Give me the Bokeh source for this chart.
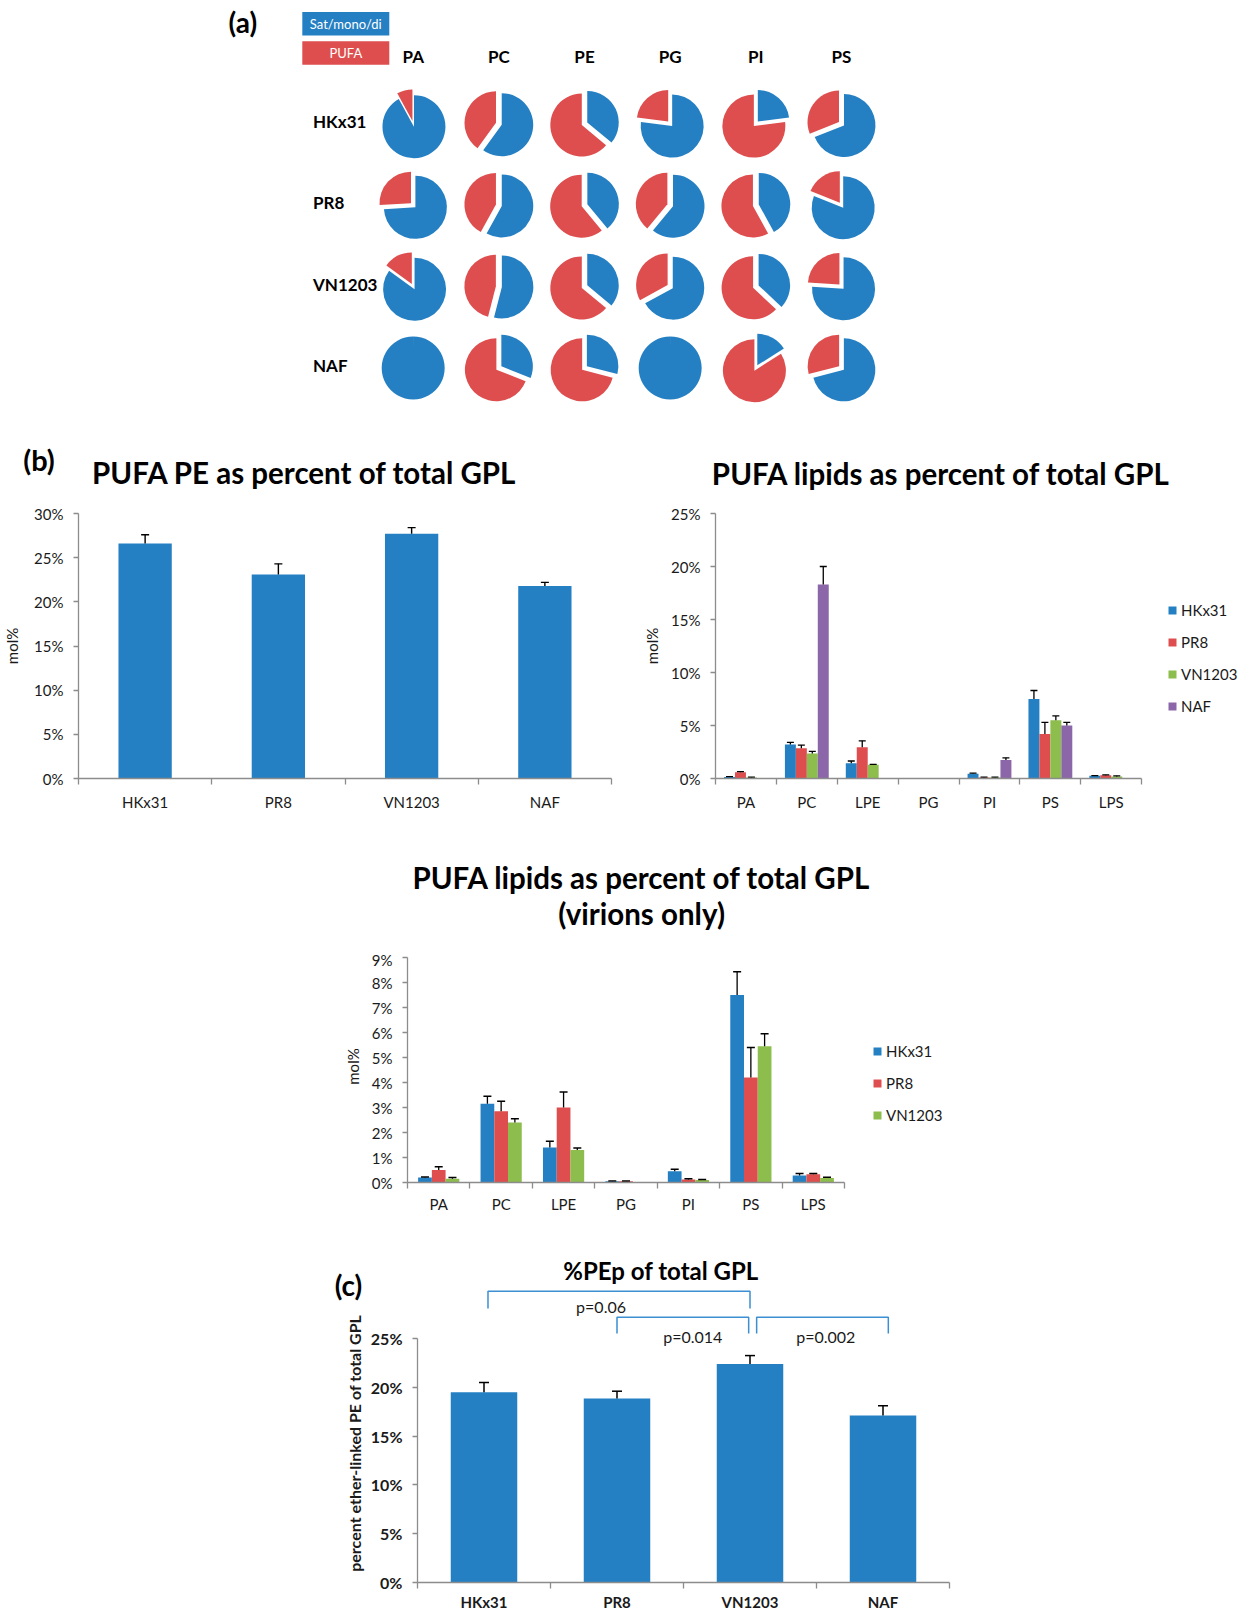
import math
from bokeh.plotting import figure
from bokeh.models import (Range1d, FixedTicker, Legend, LegendItem,
                          ColumnDataSource, Spacer, PrintfTickFormatter)
from bokeh.layouts import column, row
from bokeh.core.properties import value
from bokeh.embed import file_html
from bokeh.resources import INLINE

# ---------------- data ----------------
strains = ["HKx31", "PR8", "VN1203", "NAF"]
pie_lipids = ["PA", "PC", "PE", "PG", "PI", "PS"]
pufa_frac_HKx31 = [0.08, 0.40, 0.64, 0.23, 0.77, 0.31]
pufa_frac_PR8 = [0.26, 0.42, 0.61, 0.39, 0.58, 0.19]
pufa_frac_VN1203 = [0.15, 0.46, 0.64, 0.33, 0.63, 0.24]
pufa_frac_NAF = [0.00, 0.69, 0.71, 0.00, 0.84, 0.29]
pie_legend = ["Sat/mono/di", "PUFA"]

pufa_pe = [26.6, 23.1, 27.7, 21.8]
pufa_pe_err = [1.0, 1.2, 0.7, 0.4]

bar_lipids = ["PA", "PC", "LPE", "PG", "PI", "PS", "LPS"]
all_HKx31 = [0.15, 3.2, 1.45, 0.0, 0.45, 7.5, 0.25]
all_HKx31_err = [0.03, 0.2, 0.2, 0.0, 0.05, 0.8, 0.03]
all_PR8 = [0.6, 2.85, 2.95, 0.0, 0.1, 4.2, 0.3]
all_PR8_err = [0.05, 0.3, 0.6, 0.0, 0.03, 1.1, 0.05]
all_VN1203 = [0.1, 2.35, 1.3, 0.0, 0.1, 5.5, 0.2]
all_VN1203_err = [0.03, 0.2, 0.03, 0.0, 0.03, 0.4, 0.05]
all_NAF = [0.0, 18.3, 0.0, 0.0, 1.75, 5.0, 0.0]
all_NAF_err = [0.0, 1.7, 0.0, 0.0, 0.2, 0.3, 0.0]

vir_HKx31 = [0.2, 3.15, 1.4, 0.05, 0.45, 7.5, 0.28]
vir_HKx31_err = [0.02, 0.3, 0.25, 0.01, 0.08, 0.93, 0.08]
vir_PR8 = [0.5, 2.85, 3.0, 0.05, 0.12, 4.2, 0.33]
vir_PR8_err = [0.13, 0.4, 0.62, 0.01, 0.03, 1.2, 0.03]
vir_VN1203 = [0.15, 2.4, 1.3, 0.0, 0.1, 5.45, 0.18]
vir_VN1203_err = [0.05, 0.15, 0.08, 0.0, 0.02, 0.5, 0.03]

pep = [19.5, 18.85, 22.4, 17.1]
pep_err = [1.0, 0.75, 0.85, 1.0]
pvals = ["p=0.06", "p=0.014", "p=0.002"]
bracket_x0 = [0.53, 1.5, 2.55]
bracket_x1 = [2.5, 2.49, 3.54]
bracket_top = [29.85, 27.18, 27.18]
bracket_leg = [28.07, 25.51, 25.51]
pval_x = [1.38, 2.07, 3.07]
pval_y = [28.28, 25.2, 25.2]

# ---------------- style ----------------
BLUE = "#2580C3"
RED = "#DE4E4E"
GREEN = "#8DBD4C"
PURPLE = "#8B66A8"
AXIS = "#8C8C8C"
TXT = "#1a1a1a"
FONT = "Lato"
BRACKET = "#3B8FD2"
TITLE_SIZE = "29.5px"


def blank_fig(width, height, xr, yr):
    p = figure(width=width, height=height, x_range=Range1d(*xr), y_range=Range1d(*yr),
               output_backend="svg", toolbar_location=None,
               x_axis_location=None, y_axis_location=None,
               min_border_left=0, min_border_right=0, min_border_top=0, min_border_bottom=0)
    p.grid.visible = False
    p.outline_line_color = None
    p.background_fill_color = "white"
    p.border_fill_color = "white"
    return p


def base_fig(width, height, xmax, ymax, bl, br, bt, bb):
    p = figure(width=width, height=height, x_range=Range1d(0, xmax), y_range=Range1d(0, ymax),
               output_backend="svg", toolbar_location=None,
               min_border_left=bl, min_border_right=br, min_border_top=bt, min_border_bottom=bb)
    p.xgrid.visible = False
    p.ygrid.visible = False
    p.outline_line_color = None
    p.background_fill_color = "white"
    p.border_fill_color = "white"
    return p


def style_axes(p, labels, yticks, fsize="15px", yfsize=None, bold=False, xstand=8, ystand=10,
               ylabel=None, ylabel_stand=8):
    n = len(labels)
    st = "bold" if bold else "normal"
    xa = p.xaxis[0]
    xa.ticker = FixedTicker(ticks=[i + 0.5 for i in range(n)], minor_ticks=list(range(n + 1)))
    xa.major_label_overrides = {i + 0.5: lab for i, lab in enumerate(labels)}
    xa.bounds = (0, n)
    xa.major_tick_line_color = None
    xa.major_tick_in = 0
    xa.major_tick_out = 0
    xa.minor_tick_in = 0
    xa.minor_tick_out = 6
    xa.minor_tick_line_color = AXIS
    xa.minor_tick_line_width = 1.3
    xa.axis_line_color = AXIS
    xa.axis_line_width = 1.3
    xa.major_label_standoff = xstand
    xa.major_label_text_font = FONT
    xa.major_label_text_font_size = fsize
    xa.major_label_text_font_style = st
    xa.major_label_text_color = TXT
    ya = p.yaxis[0]
    ya.ticker = FixedTicker(ticks=yticks, minor_ticks=[])
    ya.formatter = PrintfTickFormatter(format="%d%%")
    ya.bounds = (0, yticks[-1])
    ya.major_tick_in = 0
    ya.major_tick_out = 5
    ya.major_tick_line_color = AXIS
    ya.major_tick_line_width = 1.3
    ya.minor_tick_line_color = None
    ya.axis_line_color = AXIS
    ya.axis_line_width = 1.3
    ya.major_label_standoff = ystand
    ya.major_label_text_font = FONT
    ya.major_label_text_font_size = yfsize or fsize
    ya.major_label_text_font_style = st
    ya.major_label_text_color = TXT
    if ylabel:
        ya.axis_label = ylabel
        ya.axis_label_text_font = FONT
        ya.axis_label_text_font_size = "15px"
        ya.axis_label_text_font_style = "normal"
        ya.axis_label_text_color = TXT
        ya.axis_label_standoff = ylabel_stand


def bars(p, centers, vals, errs, width, color, cap=8, lw=1.4):
    keep = [i for i, v in enumerate(vals) if v > 0]
    src = ColumnDataSource(dict(
        x=[centers[i] for i in keep],
        top=[vals[i] for i in keep],
        hi=[vals[i] + errs[i] for i in keep],
    ))
    r = p.vbar(x="x", top="top", width=width, bottom=0, source=src,
               fill_color=color, line_color=None)
    p.segment(x0="x", y0="top", x1="x", y1="hi", source=src, line_color="black", line_width=lw)
    p.scatter(x="x", y="hi", source=src, marker="dash", size=cap, line_color="black", line_width=lw)
    return r


def btext(p, x, y, text, size=TITLE_SIZE, align="center", style="bold", color="black", angle=0.0):
    p.text(x=[x], y=[y], text=[text], text_font=value(FONT), text_font_size=size,
           text_font_style=style, text_align=align, text_baseline="middle",
           text_color=color, angle=angle)


def legend_in(p, items, loc):
    leg = Legend(items=items, location=loc, border_line_color=None, background_fill_alpha=0,
                 glyph_width=10, glyph_height=10, label_height=20, spacing=12, padding=10,
                 margin=0, label_standoff=4, label_text_font=FONT, label_text_font_size="15px",
                 label_text_color=TXT)
    p.add_layout(leg)


# ---------------- header: (a) pies + (b) titles ----------------
UX, UY = 85.66, 81.4
X0, Y0 = 412.7, 123.3


def X(px):
    return (px - X0) / UX


def Y(py):
    return (Y0 - py) / UY


head = blank_fig(1252, 490, (X(0), X(1252)), (Y(490), Y(0)))

fracs = [pufa_frac_HKx31, pufa_frac_PR8, pufa_frac_VN1203, pufa_frac_NAF]
R = 31.5
EXPL = 3.0
wx, wy, ws, we, wc = [], [], [], [], []
for r, fr in enumerate(fracs):
    for c, f in enumerate(fr):
        a0 = math.pi / 2
        a1 = a0 + 2 * math.pi * f
        for s, e, colr in [(a0, a1, RED), (a1, a0 + 2 * math.pi, BLUE)]:
            span = e - s
            if span <= 1e-6:
                continue
            off = EXPL
            if span >= 2 * math.pi - 1e-9:
                e = s + 2 * math.pi - 1e-3
                off = 0
            mid = (s + e) / 2
            wx.append(c + off * math.cos(mid) / UX)
            wy.append(-r + off * math.sin(mid) / UY)
            ws.append(s)
            we.append(e)
            wc.append(colr)
head.wedge(x="x", y="y", radius=R, radius_units="screen", start_angle="s", end_angle="e",
           fill_color="c", line_color=None,
           source=ColumnDataSource(dict(x=wx, y=wy, s=ws, e=we, c=wc)))

head.text(x=list(range(len(pie_lipids))), y=[Y(56)] * len(pie_lipids), text=pie_lipids,
          text_font=value(FONT), text_font_size="17px", text_font_style="bold",
          text_align="center", text_baseline="middle", text_color="black")
head.text(x=[X(312.5)] * len(strains), y=[-i + 0.03 for i in range(len(strains))], text=strains,
          text_font=value(FONT), text_font_size="17px", text_font_style="bold",
          text_align="left", text_baseline="middle", text_color="black")
head.rect(x=[X(345.3)] * 2, y=[Y(23.25), Y(52.5)], width=87 / UX, height=23.5 / UY,
          fill_color=[BLUE, RED], line_color=None)
head.text(x=[X(345.3)] * 2, y=[Y(23.25), Y(52.5)], text=pie_legend,
          text_font=value(FONT), text_font_size="13px", text_align="center",
          text_baseline="middle", text_color="white")
btext(head, X(242.4), Y(21), "(a)", size="28px")
btext(head, X(38.5), Y(459), "(b)", size="29px")
btext(head, X(304), Y(471.7), "PUFA PE as percent of total GPL")
btext(head, X(940.6), Y(473), "PUFA lipids as percent of total GPL")

# ---------------- (b) left ----------------
bl = base_fig(640, 330, 4, 30, 76, 29, 21, 41)
style_axes(bl, strains, list(range(0, 31, 5)), ylabel="mol%", ystand=10, ylabel_stand=10)
bars(bl, [i + 0.5 for i in range(4)], pufa_pe, pufa_pe_err, 0.4, BLUE, cap=8)

# ---------------- (b) right ----------------
br = base_fig(612, 330, 538 / 61, 25, 74, 0, 23, 42)
style_axes(br, bar_lipids, list(range(0, 26, 5)), ylabel="mol%", ystand=10, ylabel_stand=7)
series4 = [(all_HKx31, all_HKx31_err, BLUE), (all_PR8, all_PR8_err, RED),
           (all_VN1203, all_VN1203_err, GREEN), (all_NAF, all_NAF_err, PURPLE)]
offs4 = [-0.27, -0.09, 0.09, 0.27]
rend4 = []
for (v, e, colr), o in zip(series4, offs4):
    rend4.append(bars(br, [i + 0.5 + o for i in range(7)], v, e, 0.18, colr, cap=7, lw=1.3))
legend_in(br, [LegendItem(label=s, renderers=[r]) for s, r in zip(strains, rend4)], (452, 62))

# ---------------- virions only ----------------
VU = 62.43
vh = blank_fig(700, 130, (-107 / VU, 593 / VU), (9.28, 9.28 + 130 / 25))
btext(vh, 3.75, 12.21, "PUFA lipids as percent of total GPL")
btext(vh, 3.75, 10.76, "(virions only)")

vir = base_fig(700, 265, 593 / VU, 9.28, 107, 0, 0, 33)
style_axes(vir, bar_lipids, list(range(0, 10)), ylabel="mol%", xstand=6, ystand=10, ylabel_stand=7)
series3 = [(vir_HKx31, vir_HKx31_err, BLUE), (vir_PR8, vir_PR8_err, RED),
           (vir_VN1203, vir_VN1203_err, GREEN)]
offs3 = [-0.22, 0.0, 0.22]
rend3 = []
for (v, e, colr), o in zip(series3, offs3):
    rend3.append(bars(vir, [i + 0.5 + o for i in range(7)], v, e, 0.22, colr, cap=8, lw=1.3))
legend_in(vir, [LegendItem(label=s, renderers=[r]) for s, r in zip(strains[:3], rend3)], (465, 57))

# ---------------- (c) ----------------
CY = 9.76
C_TOP = 367 / CY
# strip left of the axis (page x 0..367): panel letter and rotated axis title
cl = blank_fig(367, 398, (0, 367), (0, 398))
btext(cl, 348, 1613 - 1290, "(c)", size="28px")
btext(cl, 353.5, 1613 - 1462, "percent ether-linked PE of total GPL", size="16px",
      color=TXT, angle=math.pi / 2)

pc = base_fig(633, 398, 4, C_TOP, 48, 51, 0, 31)
style_axes(pc, strains, list(range(0, 26, 5)), fsize="15px", yfsize="16px", bold=True,
           xstand=4, ystand=10)
bars(pc, [i + 0.5 for i in range(4)], pep, pep_err, 0.5, BLUE, cap=10, lw=1.5)
pc.multi_line(xs=[[a, a, b, b] for a, b in zip(bracket_x0, bracket_x1)],
              ys=[[l, t, t, l] for t, l in zip(bracket_top, bracket_leg)],
              line_color=BRACKET, line_width=1.5)
pc.text(x=pval_x, y=pval_y, text=pvals, text_font=value(FONT), text_font_size="16px",
        text_align="center", text_baseline="middle", text_color=TXT)
btext(pc, 1.831, 31.97, "%PEp of total GPL", size="24px")

layout = column(
    head,
    row(bl, br),
    row(Spacer(width=300, height=130), vh),
    row(Spacer(width=300, height=265), vir),
    row(cl, pc),
)

open("out.html", "w").write(file_html(layout, INLINE, title="lipids"))
